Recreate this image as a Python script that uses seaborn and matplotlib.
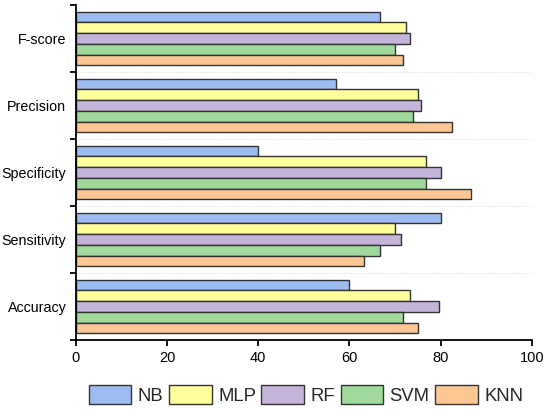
import matplotlib
matplotlib.use("Agg")
import matplotlib.pyplot as plt
import seaborn as sns
import pandas as pd

metrics = ["F-score", "Precision", "Specificity", "Sensitivity", "Accuracy"]
models = ["NB", "MLP", "RF", "SVM", "KNN"]
nb = [66.7, 57.1, 40.0, 80.0, 60.0]
mlp = [72.4, 75.0, 76.7, 70.0, 73.3]
rf = [73.2, 75.6, 80.0, 71.3, 79.7]
svm = [70.1, 74.0, 76.7, 66.7, 71.7]
knn = [71.7, 82.6, 86.7, 63.3, 75.0]
colors = ["#9dbcf2", "#ffff9c", "#c5b4da", "#a0d99c", "#fcc793"]
xticks = [0, 20, 40, 60, 80, 100]

rows = []
for m, vals in zip(models, [nb, mlp, rf, svm, knn]):
    for met, v in zip(metrics, vals):
        rows.append({"Metric": met, "Model": m, "Value": v})
df = pd.DataFrame(rows)

sns.set_theme(style="ticks")
plt.rcParams["font.family"] = ["Liberation Sans", "DejaVu Sans"]

fig = plt.figure(figsize=(5.5, 4.12), dpi=100)
ax = fig.add_axes([76 / 550, 1 - 340 / 412, (531.7 - 76) / 550, (340 - 5) / 412])

sns.barplot(data=df, x="Value", y="Metric", hue="Model", order=metrics,
            hue_order=models, palette=colors, orient="h", width=0.8,
            edgecolor="#333333", linewidth=1.0, saturation=1, ax=ax,
            legend=True)

ax.set_xlim(0, 100)
ax.set_ylim(4.5, -0.5)
ax.set_xticks(xticks)
ax.set_xticklabels([str(t) for t in xticks], fontsize=10.5, color="black")
ax.set_yticks([i - 0.5 for i in range(len(metrics) + 1)])
ax.set_yticklabels([])
ax.set_yticks(range(len(metrics)), minor=True)
ax.set_yticklabels(metrics, minor=True, fontsize=10.3, color="black")
ax.tick_params(axis="y", which="minor", length=0, pad=7)
ax.tick_params(axis="y", which="major", length=4, width=1.3, direction="out", color="black")
ax.tick_params(axis="x", length=4, width=1.3, direction="out", color="black", pad=4)
ax.set_xlabel("")
ax.set_ylabel("")
for i in range(1, len(metrics)):
    ax.axhline(i - 0.5, color="#dddddd", linestyle=":", linewidth=0.8, zorder=0)
sns.despine(ax=ax)
for s in ["left", "bottom"]:
    ax.spines[s].set_linewidth(1.3)
    ax.spines[s].set_color("black")

handles, labels = ax.get_legend_handles_labels()
ax.get_legend().remove()
fig.legend(handles, labels, loc="center", bbox_to_anchor=(306 / 550, 1 - 395 / 412),
           ncol=5, frameon=False, fontsize=13.3, handlelength=2.3, handleheight=1.15,
           handletextpad=0.35, columnspacing=0.3)

fig.savefig("out.png", dpi=100)
